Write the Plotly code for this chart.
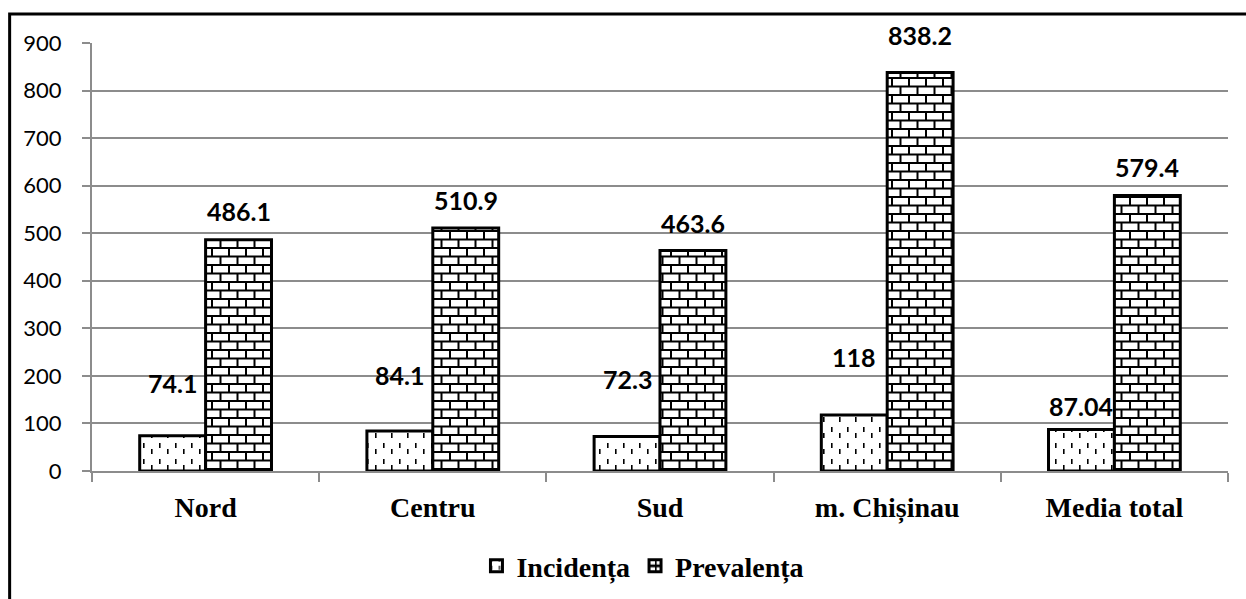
import plotly.graph_objects as go

categories = ["Nord", "Centru", "Sud", "m. Chișinau", "Media total"]
incidenta = [74.1, 84.1, 72.3, 118, 87.04]
prevalenta = [486.1, 510.9, 463.6, 838.2, 579.4]
incidenta_labels = ["74.1", "84.1", "72.3", "118", "87.04"]
prevalenta_labels = ["486.1", "510.9", "463.6", "838.2", "579.4"]
y_ticks = [0, 100, 200, 300, 400, 500, 600, 700, 800, 900]

# label vertical offsets (px above bar top) - style only
inc_off = [53, 56, 58, 58, 24]
prev_off = [29, 28, 28, 37, 28]

brick_path = ("M0,0H17V2H0Z M0,8.5H17V10.5H0Z "
              "M0,0H2V8.5H0Z M8.5,8.5H10.5V17H8.5Z")
dash_path = "M3,0H4.6V5H3Z M11,6H12.6V11H11Z"

fig = go.Figure()
fig.add_trace(go.Bar(
    name="Incidența", x=categories, y=incidenta,
    marker=dict(color="white", line=dict(color="black", width=3),
                pattern=dict(path=dash_path, size=16, fgcolor="black", bgcolor="white", fgopacity=1)),
))
fig.add_trace(go.Bar(
    name="Prevalența", x=categories, y=prevalenta,
    marker=dict(color="white", line=dict(color="black", width=3),
                pattern=dict(path=brick_path, size=17, fgcolor="black", bgcolor="white", fgopacity=1)),
))

lab_font = dict(family="Lato", size=25, color="black", weight="bold")
annotations = []
for i, c in enumerate(categories):
    annotations.append(dict(x=c, y=incidenta[i], xref="x", yref="y", text=incidenta_labels[i],
                            showarrow=False, xshift=-33, yshift=inc_off[i], yanchor="middle",
                            font=lab_font))
    annotations.append(dict(x=c, y=prevalenta[i], xref="x", yref="y", text=prevalenta_labels[i],
                            showarrow=False, xshift=33, yshift=prev_off[i], yanchor="middle",
                            font=lab_font))

fig.update_layout(
    template="none",
    width=1246, height=599,
    margin=dict(l=92, r=18, t=43, b=128),
    paper_bgcolor="white", plot_bgcolor="white",
    font=dict(family="serif", color="black", size=28, weight="bold"),
    barmode="group", bargap=0.42, bargroupgap=0,
    showlegend=True,
    legend=dict(orientation="h", x=0.485, xanchor="center", yref="container", y=0.055, yanchor="middle",
                traceorder="normal", itemwidth=30, tracegroupgap=0, bgcolor="rgba(0,0,0,0)"),
    annotations=annotations,
    shapes=[dict(type="rect", xref="paper", yref="paper", x0=-0.0725, x1=1.03, y0=-0.35, y1=1.068,
                 line=dict(color="black", width=3), fillcolor="rgba(0,0,0,0)", layer="below")],
    xaxis=dict(showline=True, linecolor="#8c8c8c", linewidth=2, ticks="outside", tickson="boundaries",
               ticklen=9, tickcolor="#8c8c8c", tickwidth=2, showgrid=False, zeroline=False,
               tickfont=dict(family="Liberation Serif", size=28, color="black", weight="bold"),
               ticklabelstandoff=10),
    yaxis=dict(range=[0, 900], tickvals=y_ticks, showgrid=True, gridcolor="#8c8c8c", gridwidth=2,
               showline=True, linecolor="#8c8c8c", linewidth=2, ticks="outside", ticklen=8,
               tickcolor="#8c8c8c", tickwidth=2, zeroline=False,
               tickfont=dict(family="Lato", size=22, color="black", weight="normal"), ticklabelstandoff=16),
)

fig.write_html("out.html", config={"displayModeBar": False},
               post_script="document.body.style.margin='0px';")
